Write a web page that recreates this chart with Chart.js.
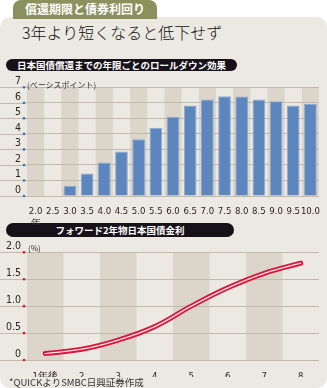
<!DOCTYPE html>
<html>
<head>
<meta charset="utf-8">
<script src="https://cdn.jsdelivr.net/npm/chart.js@4/dist/chart.umd.min.js"></script>
<style>
  body { margin: 0; width: 327px; height: 388px; background: #fff; position: relative; overflow: hidden;
         font-family: "Noto Sans CJK JP", sans-serif; }
  .abs { position: absolute; }
  #panel { left: 0; top: 17px; width: 327px; height: 371px; background: #ece9e2; border-radius: 10px; }
  #tab { left: 13px; top: 0; width: 144px; height: 19px; background: #8b915c; border-radius: 8px 8px 0 0;
         color: #fff; font-weight: bold; font-size: 12px; line-height: 17px; text-align: center; }
  #title { left: 22px; top: 20px; font-size: 16px; font-weight: 300; color: #111; white-space: nowrap; }
  .pill { background: #17121a; border-radius: 7px; color: #fff; font-weight: bold; font-size: 9.5px;
          text-align: center; white-space: nowrap; }
  #pill1 { left: 6px; top: 59px; width: 231px; height: 12px; line-height: 12px; }
  #pill2 { left: 6px; top: 223px; width: 228px; height: 14px; line-height: 14px; }
  .unit { font-size: 8px; color: #333; white-space: nowrap; }
  #unit1 { left: 27px; top: 79px; }
  #unit2 { left: 28px; top: 242px; }
  #note { left: 9px; top: 375px; font-size: 9.5px; color: #333; white-space: nowrap; }
  #w1 { left: 0; top: 75px; width: 327px; height: 155px; }
  #w2 { left: 0; top: 240px; width: 327px; height: 137px; }
</style>
</head>
<body>
<div id="panel" class="abs"></div>
<div id="tab" class="abs">償還期限と債券利回り</div>
<div id="title" class="abs">3年より短くなると低下せず</div>
<div id="pill1" class="abs pill">日本国債償還までの年限ごとのロールダウン効果</div>
<div id="pill2" class="abs pill">フォワード2年物日本国債金利</div>
<div id="w1" class="abs"><canvas id="c1"></canvas></div>
<div id="w2" class="abs"><canvas id="c2"></canvas></div>
<div id="unit1" class="abs unit">(ベーシスポイント)</div>
<div id="unit2" class="abs unit">(%)</div>
<div id="note" class="abs">*QUICKよりSMBC日興証券作成</div>

<script>
// ロールダウン効果 (ベーシスポイント)
const rollYears = ['2.0', '2.5', '3.0', '3.5', '4.0', '4.5', '5.0', '5.5', '6.0', '6.5', '7.0', '7.5', '8.0', '8.5', '9.0', '9.5', '10.0'];
const rollDown = [0, 0, 0.65, 1.45, 2.16, 2.87, 3.66, 4.39, 5.1, 5.82, 6.22, 6.43, 6.41, 6.22, 6.1, 5.83, 5.93];
const rollTicks = ['0', '1', '2', '3', '4', '5', '6', '7'];

// フォワード2年物 (%)
const fwdYears = ['1年後', '2', '3', '4', '5', '6', '7', '8'];
const fwdRate = [0.12, 0.20, 0.37, 0.62, 1.00, 1.34, 1.61, 1.80];
const fwdTicks = ['0', '0.5', '1.0', '1.5', '2.0'];

const numFont = { family: '"Liberation Sans Narrow", "DejaVu Sans Condensed", sans-serif', size: 10.5 };
const xFont = { family: '"Liberation Sans Narrow", "DejaVu Sans Condensed", sans-serif', size: 9.5 };
const gridColor = '#c4baa9';
const bandColor = '#dcd5ca';

// shaded columns, grid lines reaching the left edge, small colored dots on the y axis
const decor = {
  id: 'decor',
  beforeDraw(chart, args, opts) {
    const { ctx, chartArea } = chart;
    const x = chart.scales.x, y = chart.scales.y;
    const w = x.getPixelForValue(1) - x.getPixelForValue(0);
    ctx.save();
    ctx.fillStyle = bandColor;
    x.ticks.forEach((t, i) => {
      if (i % 2 !== opts.band) return;
      const cx = x.getPixelForValue(i);
      ctx.fillRect(cx - w / 2, chartArea.top, w, chartArea.bottom - chartArea.top);
    });
    ctx.strokeStyle = gridColor;
    ctx.lineWidth = 1;
    y.ticks.forEach(t => {
      const py = Math.round(y.getPixelForValue(t.value)) + 0.5;
      ctx.beginPath();
      ctx.moveTo(0, py);
      ctx.lineTo(chartArea.left, py);
      ctx.stroke();
    });
    ctx.restore();
  },
  afterDraw(chart, args, opts) {
    const { ctx, chartArea } = chart;
    const y = chart.scales.y;
    ctx.save();
    ctx.fillStyle = opts.dot;
    y.ticks.forEach(t => {
      const py = y.getPixelForValue(t.value);
      ctx.beginPath();
      ctx.arc(chartArea.left - 3, py, 1.3, 0, Math.PI * 2);
      ctx.fill();
    });
    ctx.restore();
  }
};

function yAxis(max, step, labels, width) {
  return {
    min: 0, max: max,
    afterFit: s => { s.width = width; },
    border: { display: false },
    grid: { color: gridColor, drawTicks: false },
    ticks: {
      stepSize: step, autoSkip: false, padding: 6, labelOffset: -6, color: '#2a2420', font: numFont,
      callback: (v, i) => labels[i]
    }
  };
}

new Chart(document.getElementById('c1'), {
  type: 'bar',
  data: {
    labels: rollYears.map((l, i) => i === 0 ? [l, '年'] : l),
    datasets: [{
      data: rollDown,
      backgroundColor: '#5d86bf',
      borderColor: '#8aa9d4',
      borderWidth: { top: 1, left: 1, right: 1, bottom: 0 },
      categoryPercentage: 1,
      barPercentage: 0.74
    }]
  },
  options: {
    responsive: true, maintainAspectRatio: false, animation: false,
    layout: { padding: { top: 12, right: 8, left: 0, bottom: 0 } },
    plugins: { legend: { display: false }, tooltip: { enabled: false }, decor: { band: 0, dot: '#3f6fc0' } },
    scales: {
      x: {
        afterFit: s => { s.height = 34; },
        border: { display: false },
        grid: { display: false },
        ticks: { padding: 2, color: '#2a2420', font: xFont, maxRotation: 0, autoSkip: false }
      },
      y: yAxis(7, 1, rollTicks, 27)
    }
  },
  plugins: [decor]
});

new Chart(document.getElementById('c2'), {
  type: 'line',
  data: {
    labels: fwdYears,
    datasets: [{
      data: fwdRate,
      borderColor: 'rgba(255,236,240,0.95)',
      borderWidth: 1.3,
      borderCapStyle: 'round',
      pointRadius: 0,
      tension: 0.4,
      order: 1
    }, {
      data: fwdRate,
      borderColor: '#d9173c',
      borderWidth: 5,
      borderCapStyle: 'round',
      pointRadius: 0,
      tension: 0.4,
      order: 2
    }]
  },
  options: {
    responsive: true, maintainAspectRatio: false, animation: false,
    layout: { padding: { top: 11, right: 8, left: 0, bottom: 0 } },
    plugins: { legend: { display: false }, tooltip: { enabled: false }, decor: { band: 0, dot: '#e0103a' } },
    scales: {
      x: {
        offset: true,
        afterFit: s => { s.height = 17; },
        border: { display: false },
        grid: { display: false },
        ticks: { padding: 3, color: '#2a2420', font: xFont, maxRotation: 0, autoSkip: false }
      },
      y: yAxis(2, 0.5, fwdTicks, 27)
    }
  },
  plugins: [decor]
});
</script>
</body>
</html>
